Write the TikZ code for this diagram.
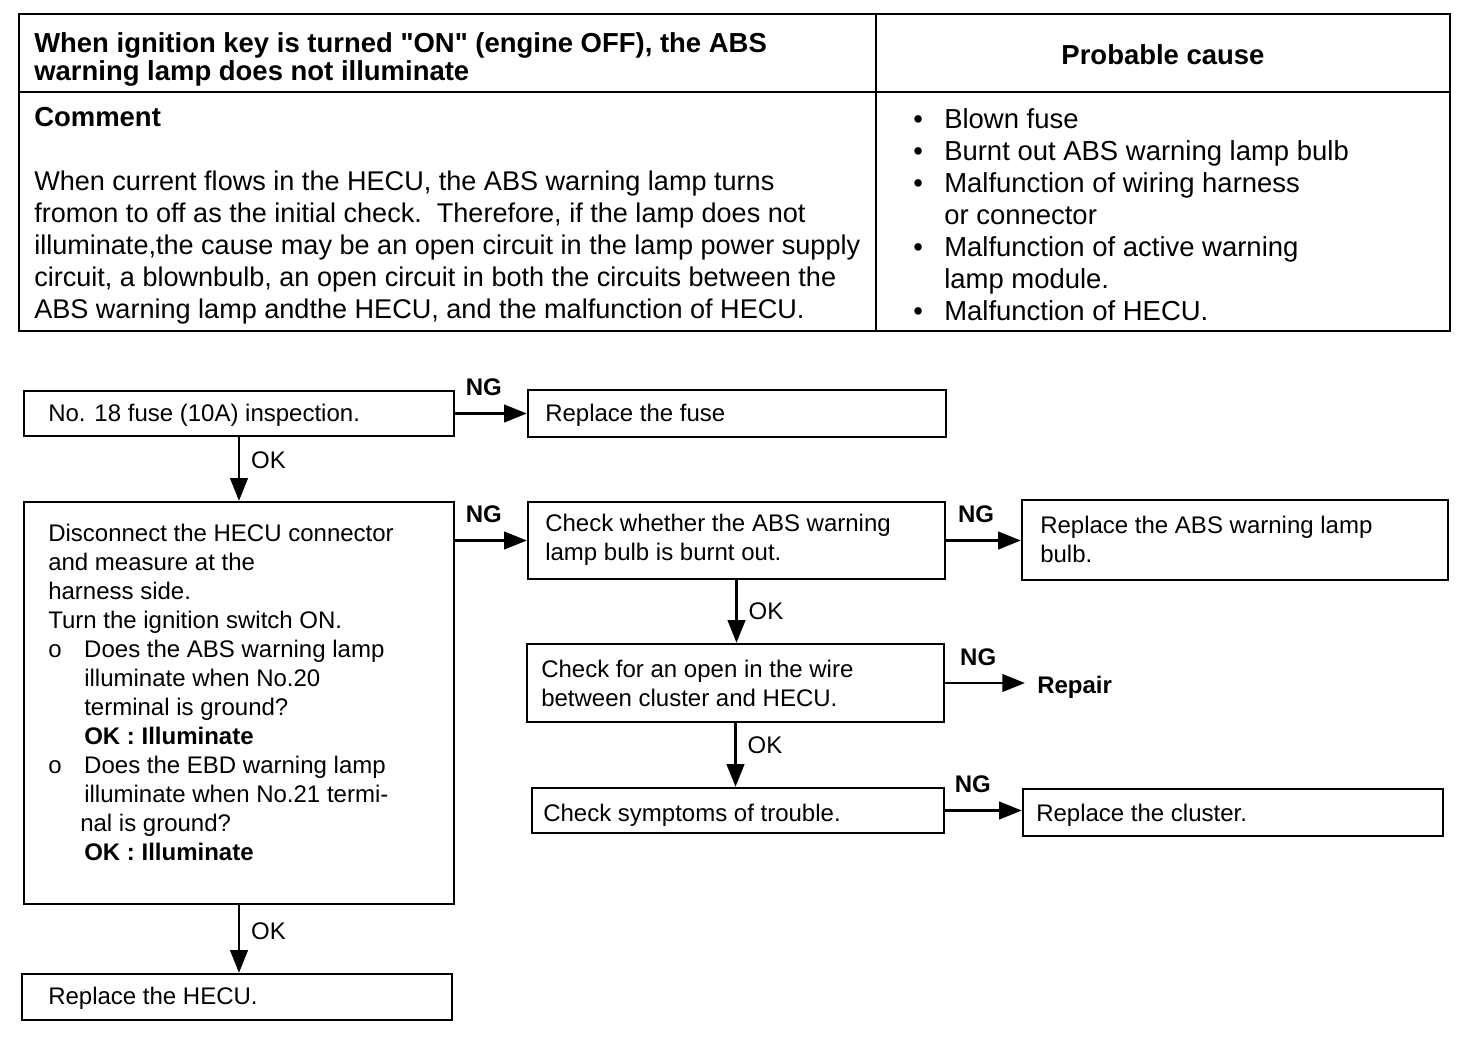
\documentclass[tikz,border=0pt]{standalone}
\usepackage{fontspec}
\setmainfont{Liberation Sans}
\usetikzlibrary{arrows.meta,positioning,fit}

\newcommand{\oitem}{\makebox[27pt][l]{o}}
\newcommand{\oindent}{\hspace*{27pt}}

\tikzset{
  box/.style={draw, line width=1.7pt, inner sep=0pt},
  frame/.style={line width=1.6pt},
  tabtext/.style={inner sep=0pt, align=left, font=\fontsize{20.3}{23.85}\selectfont},
  tabhead/.style={inner sep=0pt, align=left, font=\fontsize{20.6}{21}\selectfont\bfseries},
  flowtext/.style={inner sep=0pt, align=left, font=\fontsize{18}{21.75}\selectfont},
  flow/.style={line width=2.2pt, -{Triangle[length=17pt,width=13pt]}},
  nglabel/.style={above=12pt, pos=0.4, inner sep=0pt, font=\fontsize{18}{18}\selectfont\bfseries},
  oklabel/.style={right=8pt, inner sep=0pt, font=\fontsize{18}{18}\selectfont},
}

\begin{document}
\begin{tikzpicture}[x=0.75pt,y=0.75pt,yscale=-1,xscale=1]
\useasboundingbox (0,0) rectangle (1472,1054);

%Shape: Rectangle [table frame]
\draw[frame] (19,14) rectangle (1450,331);
%Straight Lines [column and row rules]
\draw[frame] (876,14) -- (876,331);
\draw[frame] (19,92) -- (1450,92);

% Text Node
\node[tabhead, anchor=north west] (trouble) at (34,32) {When ignition key is turned \textquotedbl ON\textquotedbl\ (engine OFF), the ABS\\warning lamp does not illuminate};
% Text Node
\node[tabhead] (cause) at (1163,55) {Probable cause};
% Text Node
\node[tabhead, anchor=base west] (comment) at (34,126) {Comment};
% Text Node
\node[tabtext, anchor=north west] (commenttext) at (34,171) {When current flows in the HECU, the ABS warning lamp turns\\
fromon to off as the initial check.\ \ Therefore, if the lamp does not\\
illuminate,the cause may be an open circuit in the lamp power supply\\
circuit, a blownbulb, an open circuit in both the circuits between the\\
ABS warning lamp andthe HECU, and the malfunction of HECU.};
% Text Node
\node[tabtext, anchor=north west, font=\fontsize{20.6}{24}\selectfont] (causelist) at (944,108) {\llap{\textbullet\hspace{16pt}}Blown fuse\\
\llap{\textbullet\hspace{16pt}}Burnt out ABS warning lamp bulb\\
\llap{\textbullet\hspace{16pt}}Malfunction of wiring harness\\
or connector\\
\llap{\textbullet\hspace{16pt}}Malfunction of active warning\\
lamp module.\\
\llap{\textbullet\hspace{16pt}}Malfunction of HECU.};

%Shape: Rectangle [flow boxes]
\node[box, fit={(24,391) (454,436)}] (fuse) {};
\node[box, fit={(528,390) (946,437)}] (fusenew) {};
\node[box, fit={(24,502) (454,904)}] (hecucheck) {};
\node[box, fit={(528,502) (945,579)}] (bulb) {};
\node[box, fit={(1022,500) (1448,580)}] (bulbnew) {};
\node[box, fit={(527,644) (944,722)}] (wire) {};
\node[box, fit={(532,788) (944,833)}] (symptoms) {};
\node[box, fit={(1023,789) (1443,836)}] (cluster) {};
\node[box, fit={(22,974) (452,1020)}] (hecunew) {};

% Text Node
\node[flowtext, anchor=base west] (fuse-txt) at (48,421.5) {No. 18 fuse (10A) inspection.};
% Text Node
\node[flowtext, anchor=base west] (fusenew-txt) at (545,421) {Replace the fuse};
% Text Node
\node[flowtext, anchor=north west] (hecucheck-txt) at (48,523.5) {Disconnect the HECU connector\\
and measure at the\\
harness side.\\
Turn the ignition switch ON.\\
\oitem Does the ABS warning lamp\\
\oindent illuminate when No.20\\
\oindent terminal is ground?\\
\oindent\textbf{OK : Illuminate}\\
\oitem Does the EBD warning lamp\\
\oindent illuminate when No.21 termi-\\
\hspace*{24pt}nal is ground?\\
\oindent\textbf{OK : Illuminate}};
% Text Node
\node[flowtext, anchor=north west] (bulb-txt) at (545,514) {Check whether the ABS warning\\lamp bulb is burnt out.};
% Text Node
\node[flowtext, anchor=north west] (bulbnew-txt) at (1040,516) {Replace the ABS warning lamp\\bulb.};
% Text Node
\node[flowtext, anchor=north west] (wire-txt) at (541,660) {Check for an open in the wire\\between cluster and HECU.};
% Text Node
\node[flowtext, anchor=base west, font=\fontsize{18}{21.75}\selectfont\bfseries] (repair) at (1037,693.5) {Repair};
% Text Node
\node[flowtext, anchor=base west] (symptoms-txt) at (543,821.5) {Check symptoms of trouble.};
% Text Node
\node[flowtext, anchor=base west] (cluster-txt) at (1036,821.5) {Replace the cluster.};
% Text Node
\node[flowtext, anchor=base west] (hecunew-txt) at (48,1004.5) {Replace the HECU.};

%Straight Lines [NG branches]
\draw[flow] (fuse.east) -- node[nglabel] {NG} (fusenew.west);
\draw[flow] (bulb.west -| hecucheck.east) -- node[nglabel] {NG} (bulb.west);
\draw[flow] (bulb.east) -- node[nglabel] {NG} (bulb.east -| bulbnew.west);
\draw[flow, shorten >=9pt] (wire.east) -- node[nglabel, pos=0.36] {NG} (wire.east -| repair.west);
\draw[flow] (symptoms.east) -- node[nglabel, pos=0.36] {NG} (symptoms.east -| cluster.west);

%Straight Lines [OK branches]
\draw[flow] (fuse.south) -- node[oklabel, pos=0.36] {OK} (hecucheck.north);
\draw[flow] (bulb.south) -- node[oklabel] {OK} (bulb.south |- wire.north);
\draw[flow] (wire.south) -- node[oklabel, pos=0.35] {OK} (wire.south |- symptoms.north);
\draw[flow] (hecucheck.south) -- node[oklabel, pos=0.39] {OK} (hecucheck.south |- hecunew.north);

\end{tikzpicture}
\end{document}
